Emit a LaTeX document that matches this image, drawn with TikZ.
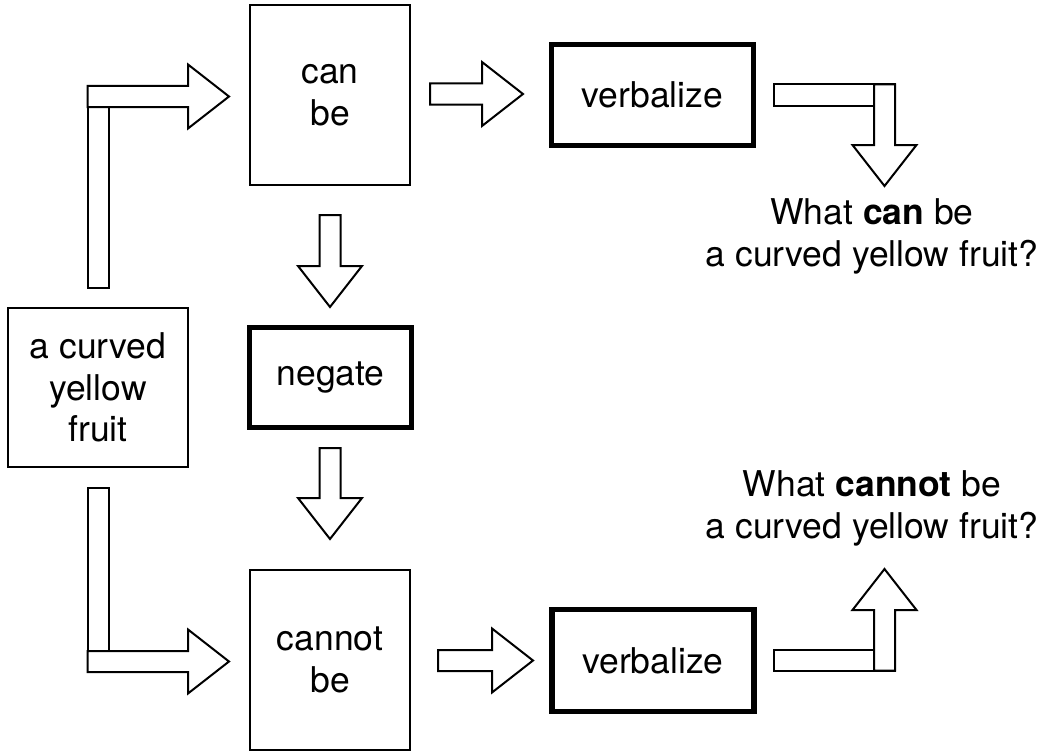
\documentclass[tikz,border=0pt]{standalone}
\usepackage{fontspec}
\setmainfont{TeX Gyre Heros}
\usetikzlibrary{calc}

% Hollow block arrow: #1 start point (shaft end), #2 length, #3 direction angle
\newcommand{\blockarrow}[3]{%
  \draw[blk,shift={(#1)},rotate=#3]
    (0,-10.5) -- ({#2-41},-10.5) -- ({#2-41},-32) -- (#2,0)
    -- ({#2-41},32) -- ({#2-41},10.5) -- (0,10.5) -- cycle;}

\begin{document}
\begin{tikzpicture}[x=1pt,y=-1pt,
  every node/.style={font=\fontsize{35.5}{41.5}\selectfont, align=center, inner sep=0pt},
  plainbox/.style={draw, line width=2pt, minimum width=160pt, minimum height=180pt},
  opbox/.style={draw, line width=5.5pt, minimum width=202pt, minimum height=101pt},
  blk/.style={draw, line width=2pt, fill=white, line join=miter}]
\useasboundingbox (0,0) rectangle (1050,752);

% boxes
\node[plainbox, minimum width=180pt, minimum height=159pt] (fruit) at (98,387.5) {a curved\\yellow\\fruit};
\node[plainbox] (can) at (330,95) {can\\be};
\node[opbox, minimum width=162pt, minimum height=100pt] (neg) at (330.5,377.5) {negate};
\node[plainbox] (cannot) at (330,660) {cannot\\be};
\node[opbox] (verbA) at (652.5,95) {verbalize};
\node[opbox, minimum height=102pt] (verbB) at (653,660.5) {verbalize};

% questions
\node (qcan) at (872,236.5) {What \textbf{can} be\\a curved yellow fruit?};
\node (qcannot) at (872,508.5) {What \textbf{cannot} be\\a curved yellow fruit?};

% arrow anchor points
\coordinate (upL) at (87.5,96.5);
\coordinate (loL) at (87.5,661.5);
\coordinate (canR) at (430,94);
\coordinate (cannotR) at (438,660.5);
\coordinate (canD) at (330,215);
\coordinate (negD) at (330,448);
\coordinate (outA) at (884.5,84.5);
\coordinate (outB) at (884.5,670.5);

% fruit -> can be
\draw[blk] (upL) rectangle ($(fruit.north)+(10.5,-19)$);
\blockarrow{upL}{141.5}{0}

% fruit -> cannot be
\draw[blk] ($(fruit.south)+(-10.5,20)$) rectangle ($(loL)+(21,0)$);
\blockarrow{loL}{141.5}{0}

% can be -> verbalize, cannot be -> verbalize
\blockarrow{canR}{93}{0}
\blockarrow{cannotR}{95}{0}

% can be -> negate -> cannot be
\blockarrow{canD}{92}{-90}
\blockarrow{negD}{91}{-90}

% verbalize -> questions
\draw[blk] (774,84.5) rectangle (895,105.5);
\blockarrow{outA}{101.5}{-90}
\draw[blk] (774,649.5) rectangle (895,670.5);
\blockarrow{outB}{101.5}{90}
\end{tikzpicture}
\end{document}
